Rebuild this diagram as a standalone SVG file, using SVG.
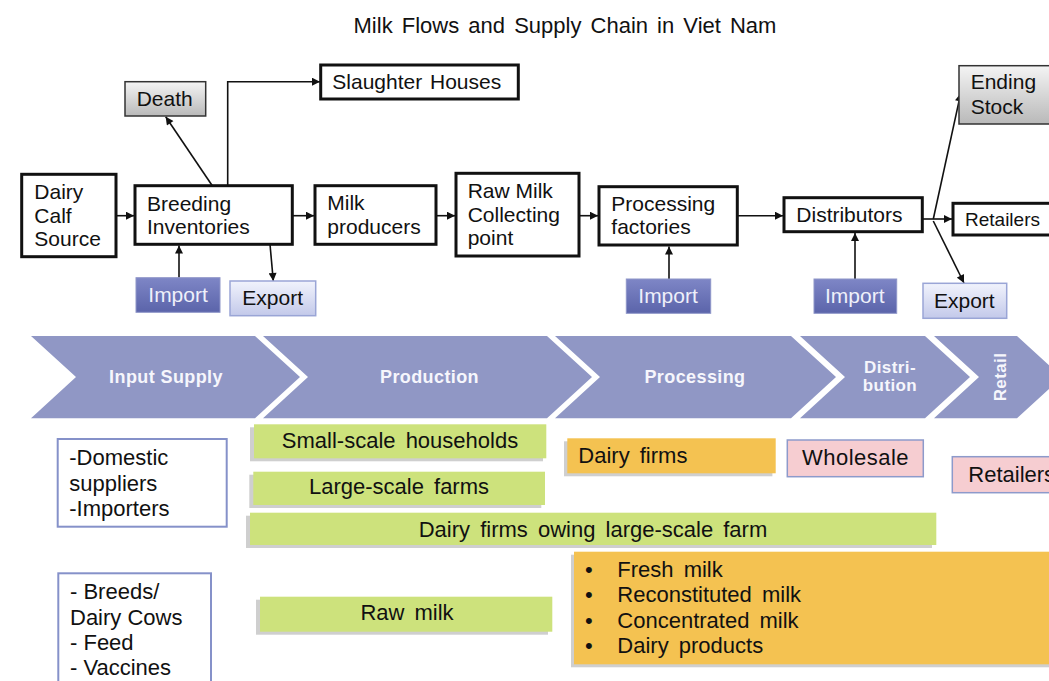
<svg xmlns="http://www.w3.org/2000/svg" width="1049" height="681" viewBox="0 0 1049 681">
<defs>
<marker id="ah" viewBox="0 0 10 10" refX="10" refY="5" markerWidth="9" markerHeight="8" markerUnits="userSpaceOnUse" orient="auto">
<path d="M0,0 L10,5 L0,10 Z" fill="#111"/>
</marker>
<linearGradient id="gGray" x1="0" y1="0" x2="0" y2="1">
<stop offset="0" stop-color="#f4f4f4"/><stop offset="1" stop-color="#b9b9b9"/>
</linearGradient>
<linearGradient id="gImp" x1="0" y1="0" x2="0" y2="1">
<stop offset="0" stop-color="#7e86c6"/><stop offset="1" stop-color="#5b64aa"/>
</linearGradient>
<linearGradient id="gExp" x1="0" y1="0" x2="0" y2="1">
<stop offset="0" stop-color="#f1f3fc"/><stop offset="1" stop-color="#c3c9ea"/>
</linearGradient>
</defs>
<style>
text{font-family:"Liberation Sans",Arial,sans-serif;fill:#111}
.t{font-size:21px}
.b{font-size:22px;word-spacing:4px}
.n{font-size:22px}
.box{fill:#fff;stroke:#111;stroke-width:3}
.gray{fill:url(#gGray);stroke:#333;stroke-width:1.5}
.imp{fill:url(#gImp);stroke:#8e95c8;stroke-width:1}
.impt{font-size:21px;fill:#eef0fa}
.exp{fill:url(#gExp);stroke:#9aa5d6;stroke-width:1.5}
.chev{fill:#9097c5}
.ct{font-size:18px;font-weight:bold;fill:#f6f6fc;letter-spacing:0.4px}
.blue{fill:#fff;stroke:#8591c9;stroke-width:2}
.green{fill:#cde27c}
.orange{fill:#f4c251}
.pink{fill:#f6cdd1;stroke:#8d9acb;stroke-width:1.5}
.sh{fill:#cfcfcf}
.con{fill:none;stroke:#111;stroke-width:1.6;marker-end:url(#ah)}
</style>

<text x="565" y="33" text-anchor="middle" style="font-size:22px;word-spacing:3px">Milk Flows and Supply Chain in Viet Nam</text>

<g id="connectors">
<path class="con" d="M116,215.7 L134,215.7"/>
<path class="con" d="M292.3,215.7 L314,215.7"/>
<path class="con" d="M436,215.7 L455,215.7"/>
<path class="con" d="M579,215.7 L598,215.7"/>
<path class="con" d="M737.3,215.7 L783,215.7"/>
<path class="con" d="M922.3,219 L952,219"/>
<path class="con" d="M933.3,219 L960.7,93.3"/>
<path class="con" d="M933.3,221 L964,283"/>
<path class="con" d="M212.3,185.7 L165.7,116.7"/>
<path class="con" d="M227.7,185.7 V81.7 H320"/>
<path class="con" d="M179,277.7 V245.5"/>
<path class="con" d="M270,244.3 L273.3,281"/>
<path class="con" d="M669,279 V246.5"/>
<path class="con" d="M855,279 V233"/>
</g>

<g id="n-calf"><rect class="box" x="21.7" y="174.3" width="94.3" height="82.4"/>
<text class="t" x="34.3" y="199">Dairy</text><text class="t" x="34.3" y="222.7">Calf</text><text class="t" x="34.3" y="246">Source</text></g>
<g id="n-breeding"><rect class="box" x="135" y="185.7" width="157.3" height="58.6"/>
<text class="t" x="147" y="210.7">Breeding</text><text class="t" x="147" y="234.3">Inventories</text></g>
<g id="n-milkprod"><rect class="box" x="315" y="185.7" width="121" height="58.6"/>
<text class="t" x="327.3" y="210">Milk</text><text class="t" x="327.3" y="234.3">producers</text></g>
<g id="n-rawmilk"><rect class="box" x="456" y="173.3" width="123" height="82.7"/>
<text class="t" x="467.7" y="198.3">Raw Milk</text><text class="t" x="467.7" y="221.7">Collecting</text><text class="t" x="467.7" y="245">point</text></g>
<g id="n-processing"><rect class="box" x="599" y="186.7" width="138.3" height="58.3"/>
<text class="t" x="611.3" y="211">Processing</text><text class="t" x="611.3" y="234.3">factories</text></g>
<g id="n-distributors"><rect class="box" x="784" y="197.7" width="138.3" height="34"/>
<text class="t" x="796.3" y="221.7">Distributors</text></g>
<g id="n-death"><rect class="gray" x="125" y="81.7" width="80.7" height="34.3"/>
<text class="t" x="136.7" y="106">Death</text></g>
<g id="n-slaughter"><rect class="box" x="320.7" y="65" width="197.6" height="34"/>
<text class="t" x="332.3" y="89.3" style="word-spacing:2px">Slaughter Houses</text></g>
<g id="n-ending"><rect class="gray" x="959" y="65.7" width="100" height="58.3"/>
<text class="t" x="970.7" y="89.3">Ending</text><text class="t" x="970.7" y="114.3">Stock</text></g>
<g id="n-retailers-top"><rect class="box" x="953" y="203.3" width="105" height="31.7"/>
<text x="965" y="225.7" style="font-size:19px">Retailers</text></g>
<g id="n-import1"><rect class="imp" x="136" y="277.7" width="84" height="34.6"/>
<text class="impt" x="148.3" y="301.7">Import</text></g>
<g id="n-export1"><rect class="exp" x="230" y="281" width="85.7" height="34.7"/>
<text class="t" x="242.3" y="305">Export</text></g>
<g id="n-import2"><rect class="imp" x="626.3" y="279" width="84.4" height="34.3"/>
<text class="impt" x="638.3" y="303.3">Import</text></g>
<g id="n-import3"><rect class="imp" x="814" y="279" width="82.7" height="34.3"/>
<text class="impt" x="825" y="303.3">Import</text></g>
<g id="n-export2"><rect class="exp" x="923" y="283.3" width="83.7" height="35"/>
<text class="t" x="934" y="307.7">Export</text></g>

<g id="stages">
<polygon class="chev" points="31,336 255,336 300,377 255,418.3 31,418.3 76,377"/>
<polygon class="chev" points="263,336 547,336 592,377 547,418.3 263,418.3 308,377"/>
<polygon class="chev" points="555,336 791,336 836,377 791,418.3 555,418.3 600,377"/>
<polygon class="chev" points="800,336 925,336 970,377 925,418.3 800,418.3 845,377"/>
<polygon class="chev" points="934,336 1017,336 1062,377 1017,418.3 934,418.3 979,377"/>
<text class="ct" x="166" y="382.7" text-anchor="middle">Input Supply</text>
<text class="ct" x="429.5" y="382.7" text-anchor="middle">Production</text>
<text class="ct" x="695" y="382.7" text-anchor="middle">Processing</text>
<text class="ct" x="890" y="373.3" text-anchor="middle" style="font-size:17px">Distri-</text>
<text class="ct" x="890" y="391" text-anchor="middle" style="font-size:17px">bution</text>
<text class="ct" x="1006" y="377" text-anchor="middle" transform="rotate(-90 1006 377)" style="font-size:17px">Retail</text>
</g>

<g id="n-domestic"><rect class="blue" x="57.7" y="439" width="169" height="87.7"/>
<text class="n" x="69.3" y="465">-Domestic</text><text class="n" x="69.3" y="490.7">suppliers</text><text class="n" x="69.3" y="515.7">-Importers</text></g>
<g id="n-breeds"><rect class="blue" x="58.3" y="573.3" width="152.7" height="120"/>
<text class="n" x="70" y="599.3">- Breeds/</text><text class="n" x="70" y="625">Dairy Cows</text><text class="n" x="70" y="650">- Feed</text><text class="n" x="70" y="675">- Vaccines</text></g>

<g id="n-small"><rect class="sh" x="250" y="427.3" width="293" height="34"/><rect class="green" x="254" y="424.3" width="292.3" height="34"/>
<text class="b" x="400" y="448.3" text-anchor="middle">Small-scale households</text></g>
<g id="n-large"><rect class="sh" x="249.3" y="474.7" width="292" height="33.3"/><rect class="green" x="253.3" y="471.7" width="291.7" height="33.3"/>
<text class="b" x="399" y="494.3" text-anchor="middle">Large-scale farms</text></g>
<g id="n-firmsfarm"><rect class="sh" x="246" y="515.7" width="686" height="32.3"/><rect class="green" x="250" y="512.7" width="686.3" height="32.3"/>
<text class="b" x="593" y="536.7" text-anchor="middle">Dairy firms owing large-scale farm</text></g>
<g id="n-rawmilk2"><rect class="sh" x="256" y="599.7" width="292" height="35"/><rect class="green" x="260" y="596.7" width="292.3" height="35"/>
<text class="b" x="407" y="620" text-anchor="middle">Raw milk</text></g>

<g id="n-dairyfirms"><rect class="sh" x="564" y="441.3" width="208.4" height="35"/><rect class="orange" x="567.3" y="438.3" width="208.4" height="35"/>
<text class="b" x="578.3" y="462.7">Dairy firms</text></g>
<g id="n-wholesale"><rect class="pink" x="787.3" y="440" width="136" height="36.7"/>
<text class="n" x="855.5" y="465" text-anchor="middle" style="letter-spacing:0.5px">Wholesale</text></g>
<g id="n-retailers"><rect class="pink" x="952.3" y="456.7" width="110" height="36"/>
<text class="n" x="968.3" y="481.7">Retailers</text></g>
<g id="n-products"><rect class="sh" x="571" y="554.7" width="490" height="112.6"/><rect class="orange" x="574" y="551.7" width="490" height="112.6"/>
<text class="n" x="585" y="576.7">•</text><text class="b" x="617.3" y="576.7">Fresh milk</text>
<text class="n" x="585" y="601.7">•</text><text class="b" x="617.3" y="601.7">Reconstituted milk</text>
<text class="n" x="585" y="627.7">•</text><text class="b" x="617.3" y="627.7">Concentrated milk</text>
<text class="n" x="585" y="652.7">•</text><text class="b" x="617.3" y="652.7">Dairy products</text></g>
</svg>
